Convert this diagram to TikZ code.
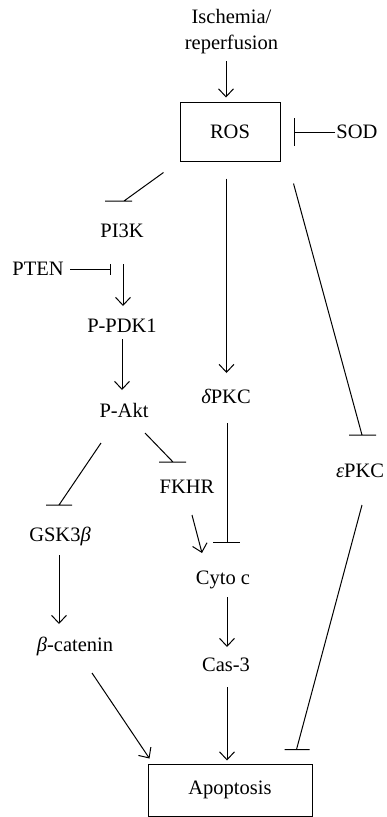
\documentclass[tikz,border=0pt]{standalone}
\usepackage{fontspec}
\setmainfont{Liberation Serif}
\usetikzlibrary{arrows.meta,calc}
\begin{document}
\begin{tikzpicture}[x=1pt,y=-1pt,line width=1pt,
  lbl/.style={inner sep=0pt,anchor=base,font=\fontsize{20.5}{26}\selectfont},
  boxnode/.style={draw,line width=1pt,inner sep=0pt,font=\fontsize{20.5}{26}\selectfont},
  act/.style={-{Straight Barb[length=8pt,width=15pt]}},
  inh/.style={-}]
\useasboundingbox (0,0) rectangle (386,817);
% nodes
\node[inner sep=0pt,align=center,font=\fontsize{20.5}{26}\selectfont] (isch) at (231.5,32) {Ischemia/\\reperfusion};
\node[boxnode,minimum width=100pt,minimum height=59pt] (ros) at (230,131.5) {ROS};
\node[lbl] (sod) at (357,138) {SOD};
\node[lbl] (pi3k) at (122,237) {PI3K};
\node[lbl] (pten) at (38,275) {PTEN};
\node[lbl] (ppdk1) at (122,332) {P-PDK1};
\node[lbl] (pakt) at (124,417) {P-Akt};
\node[lbl] (dpkc) at (226,403) {{\itshape δ}PKC};
\node[lbl] (epkc) at (360,477) {{\itshape ε}PKC};
\node[lbl] (fkhr) at (187,493) {FKHR};
\node[lbl] (gsk) at (60,541) {GSK3{\itshape β}};
\node[lbl] (cyto) at (223,584) {Cyto c};
\node[lbl] (bcat) at (75,651) {{\itshape β}-catenin};
\node[lbl] (cas) at (226,671) {Cas-3};
\node[boxnode,minimum width=164pt,minimum height=52pt] (apop) at (230,790) {Apoptosis};
% activating connectors
\draw[act] ($(isch.south)+(-5.5,6.5)$) -- ($(ros.north)+(-4,-4)$);
\draw[act] ($(pi3k.base)+(1,27)$) -- ($(ppdk1.base)+(1,-26)$);
\draw[act] ($(ppdk1.base)+(0,7)$) -- ($(pakt.base)+(-2,-27)$);
\draw[act] ($(ros.south)+(-3.5,17)$) -- ($(dpkc.base)+(0.5,-30)$);
\draw[act] ($(fkhr.base)+(5,22)$) -- ($(cyto.base)+(-21,-31)$);
\draw[act] ($(gsk.base)+(-1,14)$) -- ($(bcat.base)+(-16,-27)$);
\draw[act] ($(cyto.base)+(4,13)$) -- ($(cas.base)+(1,-24)$);
\draw[act] ($(cas.base)+(1,16)$) -- ($(apop.north)+(-3,-3)$);
\draw[act] ($(bcat.base)+(17,22)$) -- ($(apop.north west)+(2,-5)$);
% inhibiting connectors (flat bars)
\draw[inh] ($(sod.base)+(-22,-6)$) -- ($(ros.east)+(14,0.5)$) ++(0,-14) -- ++(0,28);
\draw[inh] ($(ros.south west)+(-16,11)$) -- ($(pi3k.base)+(2,-36)$) ++(-19,0) -- ++(27,0);
\draw[inh] ($(pten.base)+(32,-6)$) -- ($(pten.base)+(72,-6)$) ++(0,-5) -- ++(0,11);
\draw[inh] ($(ros.south east)+(13,22)$) -- ($(epkc.base)+(2,-42)$) ++(-13,0) -- ++(27,0);
\draw[inh] ($(pakt.base)+(-23,26)$) -- ($(gsk.base)+(-1,-36)$) ++(-13,0) -- ++(26,0);
\draw[inh] ($(pakt.base)+(21,16)$) -- ($(fkhr.base)+(-14,-31)$) ++(-14,0) -- ++(27,0);
\draw[inh] ($(dpkc.base)+(1,20)$) -- ($(cyto.base)+(4,-42)$) ++(-14,0) -- ++(27,0);
\draw[inh] ($(epkc.base)+(2,28)$) -- ($(apop.north east)+(-16,-14)$) ++(-12,0) -- ++(25,0);
\end{tikzpicture}
\end{document}
